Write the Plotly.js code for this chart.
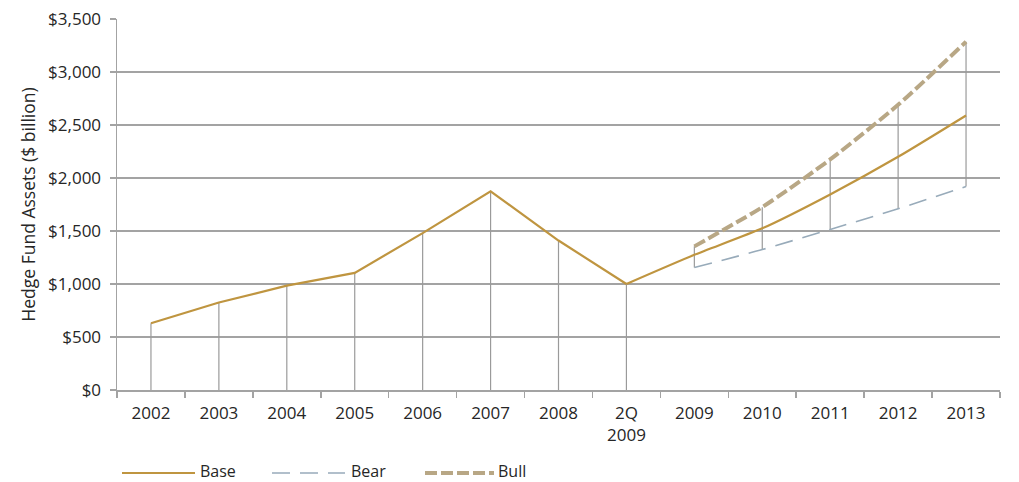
<!DOCTYPE html>
<html>
<head>
<meta charset="utf-8">
<script src="https://cdn.plot.ly/plotly-3.0.1.min.js"></script>
<style>
  html, body { margin: 0; padding: 0; background: #fff; }
  #chart { width: 1019px; height: 482px; }
</style>
</head>
<body>
<div id="chart"></div>
<script>
// Hedge fund assets, $ billion
const categories = ['2002', '2003', '2004', '2005', '2006', '2007', '2008', '2Q<br>2009',
                    '2009', '2010', '2011', '2012', '2013'];

// Historical values (2002 .. 2Q 2009)
const histCats = categories.slice(0, 8);
const histBase = [630, 825, 985, 1105, 1480, 1875, 1410, 1000];

// Projections (2Q 2009 .. 2013)
const projCats = categories.slice(7);
const projBase = [1000, 1275, 1525, 1845, 2200, 2590];
const bearCats = categories.slice(8);
const bearVals = [1155, 1325, 1515, 1710, 1920];
const bullVals = [1355, 1725, 2175, 2690, 3285];

const yTicks = [0, 500, 1000, 1500, 2000, 2500, 3000, 3500];
const yTickText = ['$0', '$500', '$1,000', '$1,500', '$2,000', '$2,500', '$3,000', '$3,500'];

const baseColor = '#BF9540';
const bearColor = '#98ABBA';
const bullColor = '#B8A785';
const gridColor = '#a3a3a3';
const textColor = '#262626';
const fontFamily = '"Open Sans", "DejaVu Sans", sans-serif';
const tickSize = 17;

// Drop lines from zero for the historical points, high-low lines for the projections
const dropX = [], dropY = [];
histCats.forEach((c, i) => { dropX.push(c, c, null); dropY.push(0, histBase[i], null); });
bearCats.forEach((c, i) => { dropX.push(c, c, null); dropY.push(bearVals[i], bullVals[i], null); });

const traces = [
  { x: dropX, y: dropY, mode: 'lines', line: { color: '#9a9a9a', width: 1.2 },
    hoverinfo: 'skip', showlegend: false },
  { x: histCats, y: histBase, mode: 'lines', name: 'Base',
    line: { color: baseColor, width: 2.2 }, showlegend: false },
  { x: projCats, y: projBase, mode: 'lines', name: 'Base',
    line: { color: baseColor, width: 2.2, shape: 'spline', smoothing: 0.6 }, showlegend: false },
  { x: bearCats, y: bearVals, mode: 'lines', name: 'Bear',
    line: { color: bearColor, width: 1.6, dash: '18px,10px', shape: 'spline', smoothing: 0.6 }, showlegend: false },
  { x: bearCats, y: bullVals, mode: 'lines', name: 'Bull',
    line: { color: bullColor, width: 4, dash: '12px,4px', shape: 'spline', smoothing: 0.6 }, showlegend: false }
];

// Legend keys below the plot
const legendItems = [
  { name: 'Base', color: baseColor, width: 2.2, dash: 'solid', x0: 122, x1: 195, tx: 198 },
  { name: 'Bear', color: bearColor, width: 1.6, dash: '18px,10px', x0: 272, x1: 345, tx: 349 },
  { name: 'Bull', color: bullColor, width: 4, dash: '12px,4px', x0: 425, x1: 494, tx: 496 }
];
const W = 1019, H = 482, legendY = 473, legendTextY = 470.5;
const px2x = px => (px - 117) / (W - 117 - 19);
const py2y = py => (390 - py) / (390 - 19);
const shapes = legendItems.map(it => ({
  type: 'line', xref: 'paper', yref: 'paper',
  x0: px2x(it.x0), x1: px2x(it.x1), y0: py2y(legendY), y1: py2y(legendY),
  line: { color: it.color, width: it.width, dash: it.dash }
}));
const annotations = legendItems.map(it => ({
  xref: 'paper', yref: 'paper', showarrow: false, xanchor: 'left', yanchor: 'middle',
  x: px2x(it.tx), y: py2y(legendTextY),
  text: it.name, font: { family: fontFamily, size: 16, color: textColor }
}));

const layout = {
  width: W, height: H,
  margin: { l: 117, r: 19, t: 19, b: 92 },
  paper_bgcolor: '#fff', plot_bgcolor: '#fff',
  font: { family: fontFamily, size: tickSize, color: textColor },
  showlegend: false,
  xaxis: {
    type: 'category', range: [-0.5, 12.5], fixedrange: true,
    showgrid: false, zeroline: false,
    showline: true, linecolor: gridColor, linewidth: 1.5,
    ticks: 'outside', tickson: 'boundaries', ticklen: 6, tickcolor: gridColor, tickwidth: 1.5,
    ticklabelstandoff: 7,
    tickfont: { family: fontFamily, size: tickSize, color: textColor }, automargin: false
  },
  yaxis: {
    range: [0, 3500], fixedrange: true,
    tickvals: yTicks, ticktext: yTickText,
    showgrid: true, gridcolor: gridColor, gridwidth: 1.5,
    zeroline: false,
    showline: true, linecolor: gridColor, linewidth: 1.5,
    ticks: 'outside', ticklen: 6, tickcolor: gridColor, tickwidth: 1.5,
    ticklabelstandoff: 5,
    tickfont: { family: fontFamily, size: tickSize, color: textColor }, automargin: false,
    title: { text: 'Hedge Fund Assets ($ billion)', font: { family: fontFamily, size: 17.5, color: textColor }, standoff: 8 }
  },
  shapes: shapes,
  annotations: annotations
};

Plotly.newPlot('chart', traces, layout, { displayModeBar: false, staticPlot: true });
</script>
</body>
</html>
